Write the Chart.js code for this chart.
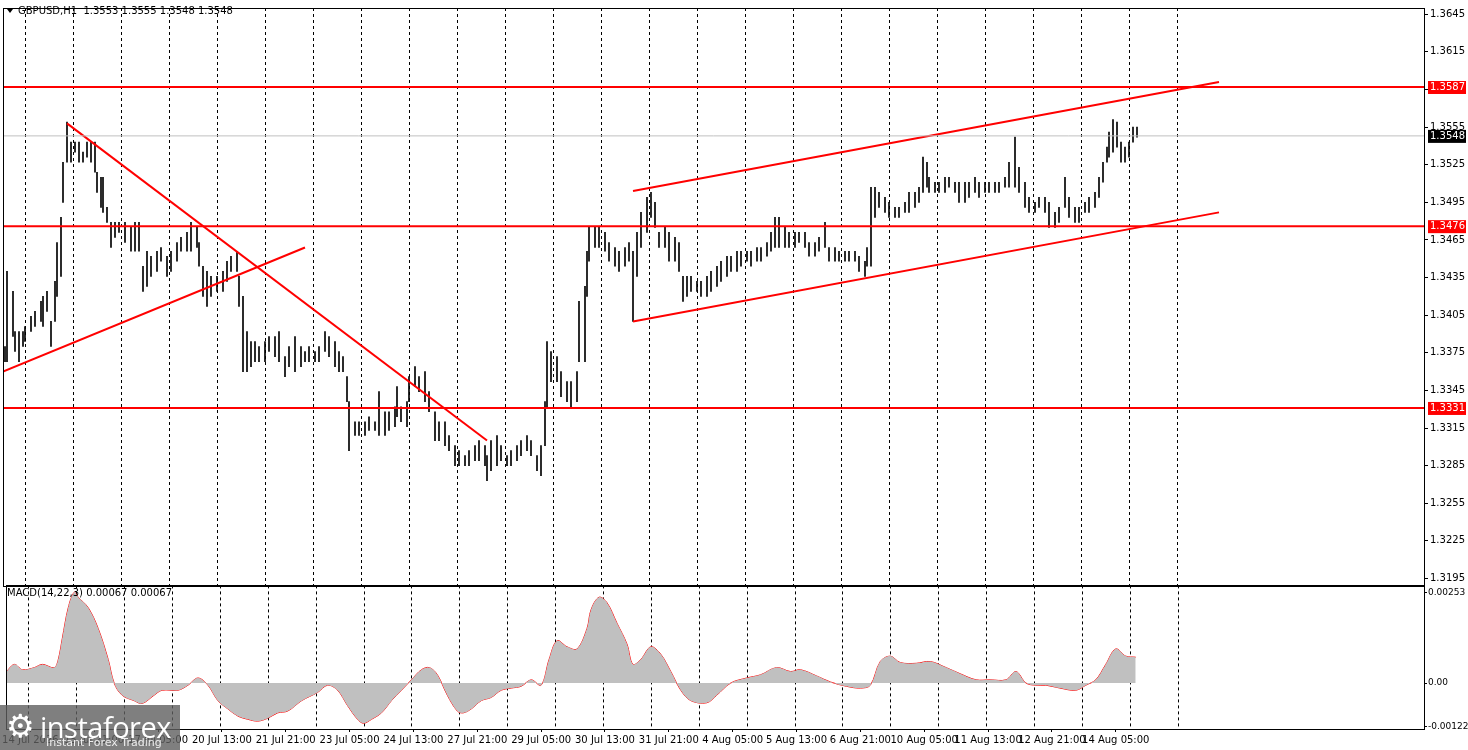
<!DOCTYPE html>
<html>
<head>
<meta charset="utf-8">
<script src="https://cdn.jsdelivr.net/npm/chart.js@4.4.1/dist/chart.umd.min.js"></script>
<style>
  body { margin: 0; background: #fff; width: 1468px; height: 750px; overflow: hidden; position: relative; font-family: "DejaVu Sans", sans-serif; }
  canvas { position: absolute; left: 0; }
  #logo { position: absolute; left: 0; top: 705px; width: 180px; height: 45px; background: rgba(95,95,95,0.8); color: #fff; }
  #logo .big { position: absolute; left: 40px; top: 2px; font-size: 29px; font-family: "Open Sans", sans-serif; letter-spacing: -0.5px; }
  #logo .small { position: absolute; left: 46px; top: 31px; font-size: 11px; color: #eee; }
  #logo .gear { position: absolute; left: 6px; top: 2px; font-size: 32px; }
</style>
</head>
<body>
<canvas id="main" width="1468" height="594" style="top:0"></canvas>
<canvas id="macd" width="1468" height="171" style="top:579px"></canvas>
<div id="logo"><span class="gear">⚙</span><span class="big">instaforex</span><span class="small">Instant Forex Trading</span></div>
<script>
// hour index of each sampled H1 bar, with its low and high
var hours = [1,2,5,6,8,10,11,14,16,19,20,22,24,26,27,29,30,32,34,36,38,40,42,44,46,47,49,50,52,54,56,58,61,64,66,68,70,72,74,77,79,82,84,87,89,92,94,97,98,100,102,104,107,110,112,114,117,118,120,122,124,126,128,131,133,136,138,141,143,146,149,151,153,156,158,161,163,166,168,170,172,173,176,178,181,183,186,188,191,193,196,197,199,202,203,206,208,211,213,216,218,221,223,226,228,231,233,236,238,241,242,244,247,249,252,254,257,259,262,264,267,269,271,272,274,277,279,282,284,287,288,291,292,293,296,298,301,303,306,308,311,313,315,317,319,322,324,326,328,331,333,336,338,340,342,344,347,349,352,354,357,359,362,364,367,369,372,374,377,379,382,384,386,388,391,393,396,398,401,403,406,408,411,413,416,418,421,423,426,428,431,432,434,436,438,441,443,446,448,451,453,456,458,460,462,463,466,468,471,473,476,478,481,483,486,488,491,493,496,498,501,503,506,508,511,513,516,518,521,523,526,528,531,533,536,538,541,543,546,548,550,552,553,555,557,559,561,563,565,567];
var lows = [1.3368,1.3368,1.3388,1.3376,1.3368,1.3380,1.3384,1.3392,1.3396,1.3400,1.3396,1.3408,1.3380,1.3400,1.3420,1.3436,1.3495,1.3527,1.3527,1.3535,1.3527,1.3527,1.3531,1.3527,1.3519,1.3503,1.3491,1.3487,1.3479,1.3459,1.3467,1.3471,1.3463,1.3456,1.3456,1.3456,1.3424,1.3428,1.3436,1.3440,1.3448,1.3436,1.3440,1.3448,1.3456,1.3456,1.3456,1.3459,1.3444,1.3420,1.3412,1.3420,1.3424,1.3424,1.3432,1.3440,1.3440,1.3412,1.3360,1.3360,1.3364,1.3368,1.3368,1.3368,1.3376,1.3372,1.3368,1.3356,1.3364,1.3360,1.3364,1.3368,1.3368,1.3368,1.3368,1.3376,1.3372,1.3364,1.3360,1.3360,1.3336,1.3297,1.3309,1.3309,1.3309,1.3313,1.3313,1.3309,1.3309,1.3313,1.3316,1.3324,1.3320,1.3316,1.3336,1.3348,1.3344,1.3336,1.3328,1.3305,1.3305,1.3301,1.3297,1.3285,1.3285,1.3285,1.3285,1.3289,1.3289,1.3285,1.3273,1.3281,1.3285,1.3289,1.3285,1.3285,1.3289,1.3293,1.3297,1.3293,1.3281,1.3277,1.3301,1.3332,1.3352,1.3352,1.3340,1.3336,1.3332,1.3336,1.3368,1.3368,1.3420,1.3448,1.3459,1.3459,1.3456,1.3448,1.3444,1.3440,1.3444,1.3448,1.3400,1.3436,1.3459,1.3471,1.3483,1.3475,1.3459,1.3459,1.3448,1.3448,1.3440,1.3416,1.3420,1.3424,1.3424,1.3420,1.3420,1.3424,1.3428,1.3432,1.3436,1.3440,1.3440,1.3444,1.3448,1.3444,1.3448,1.3448,1.3452,1.3456,1.3459,1.3459,1.3459,1.3459,1.3459,1.3463,1.3459,1.3452,1.3452,1.3456,1.3459,1.3448,1.3448,1.3448,1.3448,1.3448,1.3448,1.3440,1.3436,1.3444,1.3444,1.3483,1.3491,1.3487,1.3483,1.3483,1.3483,1.3487,1.3487,1.3491,1.3495,1.3503,1.3507,1.3503,1.3503,1.3503,1.3503,1.3507,1.3503,1.3495,1.3495,1.3499,1.3503,1.3499,1.3503,1.3503,1.3503,1.3503,1.3507,1.3507,1.3507,1.3503,1.3491,1.3487,1.3487,1.3491,1.3487,1.3475,1.3475,1.3479,1.3491,1.3483,1.3479,1.3479,1.3487,1.3487,1.3491,1.3499,1.3511,1.3527,1.3531,1.3535,1.3539,1.3527,1.3527,1.3531,1.3543,1.3547];
var highs = [1.3380,1.3440,1.3424,1.3392,1.3392,1.3392,1.3396,1.3404,1.3408,1.3416,1.3420,1.3424,1.3400,1.3432,1.3463,1.3483,1.3527,1.3559,1.3543,1.3543,1.3543,1.3535,1.3543,1.3543,1.3543,1.3519,1.3515,1.3515,1.3491,1.3479,1.3479,1.3479,1.3479,1.3475,1.3479,1.3479,1.3444,1.3456,1.3452,1.3456,1.3459,1.3452,1.3456,1.3463,1.3467,1.3471,1.3479,1.3475,1.3463,1.3444,1.3440,1.3436,1.3436,1.3440,1.3448,1.3452,1.3456,1.3436,1.3420,1.3392,1.3384,1.3384,1.3380,1.3384,1.3388,1.3388,1.3392,1.3372,1.3380,1.3388,1.3380,1.3376,1.3380,1.3376,1.3380,1.3392,1.3388,1.3384,1.3376,1.3372,1.3356,1.3336,1.3320,1.3320,1.3320,1.3324,1.3320,1.3344,1.3328,1.3328,1.3332,1.3348,1.3332,1.3336,1.3356,1.3364,1.3356,1.3360,1.3344,1.3328,1.3320,1.3320,1.3309,1.3301,1.3297,1.3293,1.3297,1.3301,1.3305,1.3301,1.3293,1.3305,1.3309,1.3301,1.3293,1.3297,1.3301,1.3305,1.3309,1.3305,1.3293,1.3301,1.3336,1.3384,1.3376,1.3372,1.3360,1.3352,1.3352,1.3360,1.3416,1.3428,1.3456,1.3475,1.3475,1.3475,1.3471,1.3463,1.3459,1.3456,1.3459,1.3463,1.3456,1.3471,1.3487,1.3499,1.3503,1.3495,1.3471,1.3475,1.3471,1.3467,1.3463,1.3436,1.3436,1.3436,1.3432,1.3432,1.3436,1.3440,1.3444,1.3448,1.3452,1.3452,1.3456,1.3456,1.3456,1.3456,1.3459,1.3459,1.3463,1.3471,1.3483,1.3483,1.3475,1.3471,1.3471,1.3471,1.3471,1.3463,1.3463,1.3467,1.3479,1.3459,1.3459,1.3456,1.3456,1.3456,1.3456,1.3452,1.3448,1.3459,1.3507,1.3507,1.3503,1.3499,1.3495,1.3491,1.3491,1.3495,1.3503,1.3503,1.3507,1.3531,1.3527,1.3515,1.3511,1.3511,1.3515,1.3515,1.3511,1.3511,1.3511,1.3511,1.3515,1.3511,1.3511,1.3511,1.3511,1.3511,1.3515,1.3527,1.3547,1.3523,1.3511,1.3499,1.3495,1.3499,1.3499,1.3495,1.3487,1.3491,1.3515,1.3499,1.3491,1.3491,1.3495,1.3499,1.3503,1.3515,1.3527,1.3539,1.3551,1.3561,1.3559,1.3543,1.3539,1.3543,1.3555,1.3555];

// MACD(14,22,3) readings
var macdHours = [0,4,8,14,18,24,26,28,31,34,36,41,46,51,54,58,64,68,74,78,86,91,96,101,106,111,116,121,126,131,136,141,148,156,161,166,171,176,179,183,188,193,198,203,208,212,216,221,226,229,233,238,243,248,253,258,263,268,272,276,281,286,291,293,297,301,306,311,314,318,323,328,333,338,343,351,356,363,371,378,386,393,398,406,413,421,428,433,438,443,448,456,463,471,478,486,493,501,506,511,516,521,528,536,541,546,551,556,561,566];
var macdValues = [0.00032,0.00052,0.00037,0.00043,0.00052,0.00043,0.00066,0.00124,0.00210,0.00253,0.00239,0.00210,0.00152,0.00066,0,-0.00034,-0.00049,-0.00057,-0.00034,-0.00020,-0.00020,-0.00006,0.00014,-0.00006,-0.00049,-0.00072,-0.00092,-0.00101,-0.00106,-0.00098,-0.00083,-0.00078,-0.00049,-0.00026,-0.00006,-0.00020,-0.00063,-0.00101,-0.00112,-0.00101,-0.00083,-0.00049,-0.00020,0.00009,0.00037,0.00043,0.00023,-0.00034,-0.00078,-0.00083,-0.00072,-0.00049,-0.00040,-0.00020,-0.00014,-0.00009,0.00009,-0.00006,0.00066,0.00118,0.00101,0.00095,0.00152,0.00204,0.00239,0.00224,0.00167,0.00109,0.00052,0.00066,0.00101,0.00080,0.00032,-0.00020,-0.00049,-0.00055,-0.00034,0,0.00014,0.00023,0.00043,0.00032,0.00037,0.00020,0.00003,-0.00009,-0.00014,-0.00006,0.00060,0.00075,0.00057,0.00055,0.00060,0.00043,0.00026,0.00009,0.00009,0.00009,0.00032,0,-0.00006,-0.00006,-0.00014,-0.00020,-0.00006,0.00009,0.00052,0.00095,0.00075,0.00072];

var levels = [1.3587, 1.3476, 1.3331];
var currentPrice = 1.3548;
var priceTicks = [1.3195,1.3225,1.3255,1.3285,1.3315,1.3345,1.3375,1.3405,1.3435,1.3465,1.3495,1.3525,1.3555,1.3585,1.3615,1.3645];
var macdTicks = [-0.00122, 0, 0.00253];
var timeLabels = ["14 Jul 2026","15 Jul 21:00","17 Jul 05:00","20 Jul 13:00","21 Jul 21:00","23 Jul 05:00","24 Jul 13:00","27 Jul 21:00","29 Jul 05:00","30 Jul 13:00","31 Jul 21:00","4 Aug 05:00","5 Aug 13:00","6 Aug 21:00","10 Aug 05:00","11 Aug 13:00","12 Aug 21:00","14 Aug 05:00"];
var labelHours = [12,44,76,108,140,172,204,236,268,300,332,364,396,428,460,492,524,556];
// trend lines [h1, p1, h2, p2]
var trendLines = [
  [0, 1.3360, 151, 1.3459],
  [32, 1.3558, 242, 1.3305],
  [315, 1.3504, 608, 1.3591],
  [315, 1.3400, 608, 1.3487]
];

var FONT = { family: "DejaVu Sans", size: 10 };
var SMALL = { family: "DejaVu Sans", size: 9 };
var X_MAX = 710.5;

function dayGrid(chart) {
  var ctx = chart.ctx, a = chart.chartArea, xs = chart.scales.x;
  ctx.save();
  ctx.strokeStyle = '#000';
  ctx.lineWidth = 1;
  ctx.setLineDash([3, 3]);
  for (var k = 0; k <= 24; k++) {
    var px = Math.round(xs.getPixelForValue(11 + 24 * k)) + 0.5;
    ctx.beginPath(); ctx.moveTo(px, a.top); ctx.lineTo(px, a.bottom); ctx.stroke();
  }
  ctx.restore();
}

function frame(chart) {
  var ctx = chart.ctx, a = chart.chartArea;
  ctx.save();
  ctx.strokeStyle = '#000';
  ctx.lineWidth = 1;
  ctx.strokeRect(Math.round(a.left) + 0.5, Math.round(a.top) + 0.5, Math.round(a.width), Math.round(a.height));
  ctx.restore();
}

var mainPlugin = {
  id: 'mainDecor',
  beforeDatasetsDraw: dayGrid,
  afterDraw: function (chart) {
    frame(chart);
    var ctx = chart.ctx, ys = chart.scales.y, a = chart.chartArea;
    ctx.save();
    ctx.font = '10px "DejaVu Sans"';
    ctx.textBaseline = 'middle';
    var boxes = levels.map(function (v) { return [v, '#ff0000']; }).concat([[currentPrice, '#000000']]);
    boxes.forEach(function (b) {
      var py = ys.getPixelForValue(b[0]);
      ctx.fillStyle = b[1];
      ctx.fillRect(a.right + 4, py - 6, 38, 13);
      ctx.fillStyle = '#fff';
      ctx.fillText(b[0].toFixed(4), a.right + 6, py + 0.5);
    });
    // header
    ctx.fillStyle = '#000';
    ctx.beginPath(); ctx.moveTo(7, 9); ctx.lineTo(13, 9); ctx.lineTo(10, 13); ctx.closePath(); ctx.fill();
    ctx.fillText('GBPUSD,H1  1.3553 1.3555 1.3548 1.3548', 18, 11);
    ctx.restore();
  }
};

var macdPlugin = {
  id: 'macdDecor',
  beforeDatasetsDraw: dayGrid,
  afterDraw: function (chart) {
    frame(chart);
    var ctx = chart.ctx, a = chart.chartArea;
    ctx.save();
    ctx.font = '10px "DejaVu Sans"';
    ctx.fillStyle = '#000';
    ctx.textBaseline = 'middle';
    ctx.fillText('MACD(14,22,3) 0.00067 0.00067', 7, a.top + 8);
    ctx.restore();
  }
};

function fixWidth(scale) { scale.width = 44; }

var lineSets = [];
levels.forEach(function (v) {
  lineSets.push({ type: 'line', data: [{ x: 0, y: v }, { x: X_MAX, y: v }], borderColor: '#ff0000', borderWidth: 2, pointRadius: 0 });
});
lineSets.push({ type: 'line', data: [{ x: 0, y: currentPrice }, { x: X_MAX, y: currentPrice }], borderColor: '#c0c0c0', borderWidth: 1, pointRadius: 0 });
trendLines.forEach(function (t) {
  lineSets.push({ type: 'line', data: [{ x: t[0], y: t[1] }, { x: t[2], y: t[3] }], borderColor: '#ff0000', borderWidth: 2, pointRadius: 0 });
});

var barData = hours.map(function (h, i) { return { x: h, y: [lows[i], highs[i]] }; });

new Chart(document.getElementById('main'), {
  type: 'bar',
  data: {
    datasets: [{ type: 'bar', data: barData, backgroundColor: '#000', barThickness: 1, grouped: false, order: 1 }]
      .concat(lineSets)
  },
  options: {
    responsive: false,
    animation: false,
    events: [],
    layout: { padding: { top: 0, left: 3, bottom: 1, right: 0 } },
    plugins: { legend: { display: false }, tooltip: { enabled: false } },
    scales: {
      x: { type: 'linear', min: 0, max: X_MAX, offset: false, display: false },
      y: {
        position: 'right', min: 1.3189, max: 1.3650,
        afterBuildTicks: function (s) { s.ticks = priceTicks.map(function (v) { return { value: v }; }); },
        afterFit: fixWidth,
        ticks: { font: FONT, color: '#000', padding: 2, callback: function (v) { return v.toFixed(4); } },
        grid: { drawOnChartArea: false, tickLength: 4, color: '#000' },
        border: { color: '#000' }
      }
    }
  },
  plugins: [mainPlugin]
});

var macdData = macdHours.map(function (h, i) { return { x: h, y: macdValues[i] }; });

new Chart(document.getElementById('macd'), {
  type: 'line',
  data: {
    datasets: [
      { data: macdData, borderWidth: 0, borderColor: 'rgba(0,0,0,0)', backgroundColor: '#c0c0c0', fill: 'origin', pointRadius: 0, tension: 0.35 },
      { data: macdData, borderWidth: 1, borderColor: '#ff0000', fill: false, pointRadius: 0, tension: 0.35 }
    ]
  },
  options: {
    responsive: false,
    animation: false,
    events: [],
    layout: { padding: { top: 1, left: 3, bottom: 0, right: 0 } },
    plugins: { legend: { display: false }, tooltip: { enabled: false } },
    scales: {
      x: {
        type: 'linear', min: 0, max: X_MAX, offset: false,
        afterBuildTicks: function (s) { s.ticks = labelHours.map(function (v) { return { value: v }; }); },
        afterFit: function (s) { s.height = 21; },
        ticks: {
          font: FONT, color: '#000', maxRotation: 0, autoSkip: false, padding: 2,
          callback: function (v) { var i = labelHours.indexOf(v); return i >= 0 ? timeLabels[i] : ''; }
        },
        grid: { drawOnChartArea: false, tickLength: 3, color: '#000' },
        border: { color: '#000' }
      },
      y: {
        position: 'right', min: -0.00128, max: 0.00272,
        afterBuildTicks: function (s) { s.ticks = macdTicks.map(function (v) { return { value: v }; }); },
        afterFit: fixWidth,
        ticks: { font: SMALL, color: '#000', padding: 1, callback: function (v) { return v === 0 ? '0.00' : v.toFixed(5); } },
        grid: { drawOnChartArea: false, tickLength: 3, color: '#000' },
        border: { color: '#000' }
      }
    }
  },
  plugins: [macdPlugin]
});
</script>
</body>
</html>
